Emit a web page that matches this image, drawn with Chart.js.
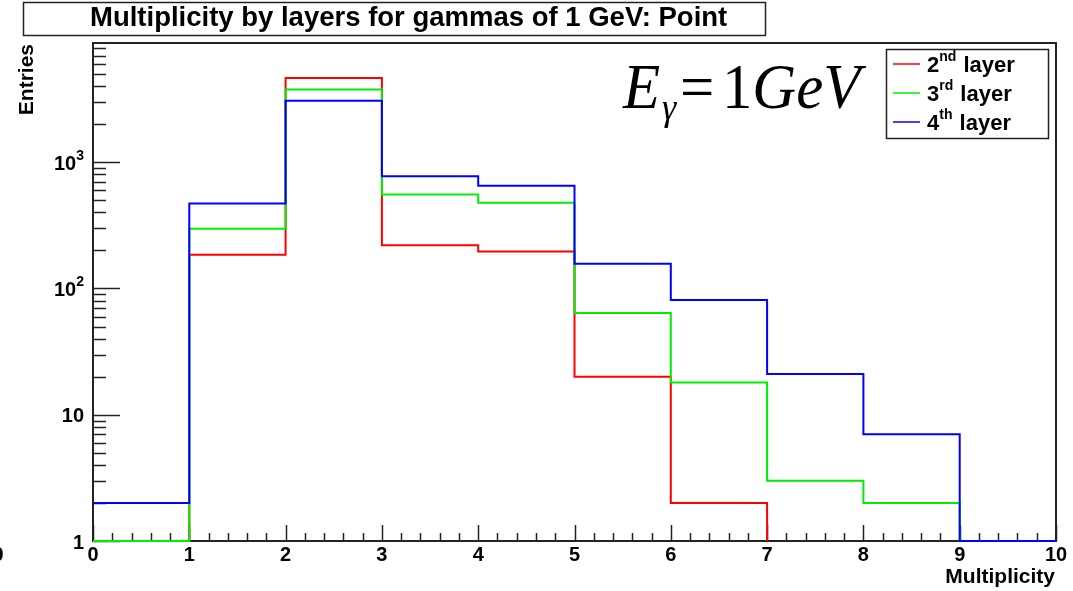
<!DOCTYPE html>
<html>
<head>
<meta charset="utf-8">
<script src="https://cdn.jsdelivr.net/npm/chart.js"></script>
<style>
  html, body { margin: 0; padding: 0; background: #fff; }
  #wrap { width: 1073px; height: 591px; position: relative; }
</style>
</head>
<body>
<div id="wrap"><canvas id="chart"></canvas></div>
<script>
// bin edges 0..10, one value per bin (0 = empty bin)
const binEdges = [0, 1, 2, 3, 4, 5, 6, 7, 8, 9, 10];
const layer2 = [1, 185, 4640, 220, 196, 20, 2, 0, 0, 0];
const layer3 = [1, 297, 3770, 555, 477, 64, 18, 3, 2, 0];
const layer4 = [2, 471, 3070, 776, 650, 157, 81, 21, 7, 1];
const seriesNames = [["2", "nd", " layer"], ["3", "rd", " layer"], ["4", "th", " layer"]];
const seriesColors = ["#ff0000", "#00ee00", "#0000ff"];
const yTicks = [1, 10, 100, 1000];
const yTickLabels = [["1", ""], ["10", ""], ["10", "2"], ["10", "3"]];
const xTicks = [0, 1, 2, 3, 4, 5, 6, 7, 8, 9, 10];
const yMax = 8800;

const titleText = "Multiplicity by layers for gammas of 1 GeV: Point";

// histogram outline: one point per bin start, trailing empty bins drop to the axis
function steps(vals) {
  const pts = [];
  let end = vals.length;
  while (end > 0 && vals[end - 1] === 0) end--;
  for (let i = 0; i < end; i++) pts.push({x: binEdges[i], y: vals[i]});
  if (end < vals.length) pts.push({x: binEdges[end], y: 1});
  else pts.push({x: binEdges[end], y: vals[end - 1]});
  return pts;
}

const B = "bold ";
const SANS = "'Liberation Sans', Arial, sans-serif";

const rootFrame = {
  id: 'rootFrame',
  beforeDatasetsDraw(chart) {
    const ctx = chart.ctx, a = chart.chartArea;
    const xs = chart.scales.x, ys = chart.scales.y;
    ctx.save();
    ctx.strokeStyle = '#222';
    ctx.lineWidth = 1.5;
    // x ticks
    for (let v = 0; v <= 10.001; v += 0.2) {
      const px = Math.round(xs.getPixelForValue(v)) + 0.5;
      const major = Math.abs(v - Math.round(v)) < 0.01;
      ctx.beginPath();
      ctx.moveTo(px, a.bottom);
      ctx.lineTo(px, a.bottom - (major ? 16 : 8));
      ctx.stroke();
    }
    // y ticks
    for (let d = 1; d <= 1000; d *= 10) {
      for (let m = 1; m <= 9; m++) {
        const v = d * m;
        if (v > yMax) break;
        const py = Math.round(ys.getPixelForValue(v)) + 0.5;
        ctx.beginPath();
        ctx.moveTo(a.left, py);
        ctx.lineTo(a.left + (m === 1 ? 27 : 13), py);
        ctx.stroke();
      }
    }
    ctx.lineWidth = 2;
    ctx.strokeStyle = '#222';
    ctx.strokeRect(a.left, a.top, a.right - a.left, a.bottom - a.top);
    ctx.restore();
  },
  afterDraw(chart) {
    const ctx = chart.ctx, a = chart.chartArea;
    const xs = chart.scales.x, ys = chart.scales.y;
    ctx.save();
    ctx.fillStyle = '#000';

    // x tick labels
    ctx.font = B + "20px " + SANS;
    ctx.textAlign = 'center';
    ctx.textBaseline = 'middle';
    xTicks.forEach(v => ctx.fillText(String(v), xs.getPixelForValue(v), 555));
    // y tick labels
    yTicks.forEach((v, i) => {
      const py = ys.getPixelForValue(v);
      const [base, sup] = yTickLabels[i];
      ctx.font = B + "14px " + SANS;
      const sw = sup ? ctx.measureText(sup).width : 0;
      ctx.textAlign = 'right';
      if (sup) { ctx.textBaseline = 'alphabetic'; ctx.fillText(sup, 84, py - 2); }
      ctx.font = B + "20px " + SANS;
      ctx.textBaseline = 'middle';
      ctx.fillText(base, 84 - sw, py + 2);
    });
    // partial label at the left edge
    ctx.textAlign = 'center';
    ctx.fillText("0", -2, 555);

    // axis titles
    ctx.font = B + "21px " + SANS;
    ctx.textAlign = 'right';
    ctx.textBaseline = 'alphabetic';
    ctx.fillText("Multiplicity", 1055, 583);
    ctx.save();
    ctx.translate(33, 44);
    ctx.rotate(-Math.PI / 2);
    ctx.textAlign = 'right';
    ctx.fillText("Entries", 0, 0);
    ctx.restore();

    // title box
    ctx.fillStyle = '#fff';
    ctx.fillRect(23, 2, 742, 33);
    ctx.strokeStyle = '#222';
    ctx.lineWidth = 1.5;
    ctx.strokeRect(23.5, 2.5, 742, 33);
    ctx.fillStyle = '#000';
    ctx.font = B + "22px " + SANS;
    const tw = ctx.measureText(titleText).width;
    const fs = 22 * 638 / tw;
    ctx.font = B + fs.toFixed(1) + "px " + SANS;
    ctx.textAlign = 'left';
    ctx.fillText(titleText, 90, 26);

    // legend box
    ctx.fillStyle = '#fff';
    ctx.fillRect(886, 49, 162, 89);
    ctx.strokeRect(886.5, 49.5, 162, 89);
    const rows = [63, 92, 121];
    seriesNames.forEach((parts, i) => {
      const y = rows[i] + 1;
      ctx.strokeStyle = seriesColors[i];
      ctx.lineWidth = 1.5;
      ctx.beginPath();
      ctx.moveTo(893, y);
      ctx.lineTo(920, y);
      ctx.stroke();
      ctx.fillStyle = '#000';
      ctx.textAlign = 'left';
      ctx.textBaseline = 'alphabetic';
      ctx.font = B + "22px " + SANS;
      let x = 927;
      ctx.fillText(parts[0], x, y + 8);
      x += ctx.measureText(parts[0]).width;
      ctx.font = B + "14px " + SANS;
      ctx.fillText(parts[1], x, y - 3);
      x += ctx.measureText(parts[1]).width + 1;
      ctx.font = B + "22px " + SANS;
      ctx.fillText(parts[2], x, y + 8);
    });

    // E_gamma = 1GeV
    const SERIF = "'Liberation Serif', 'Times New Roman', serif";
    ctx.save();
    ctx.translate(623, 108);
    ctx.scale(0.95, 1);
    ctx.fillStyle = '#000';
    ctx.textAlign = 'left';
    ctx.textBaseline = 'alphabetic';
    let ex = 0;
    ctx.font = "italic 64px " + SERIF;
    ctx.fillText("E", ex, 0);
    ex += ctx.measureText("E").width;
    ctx.font = "italic 38px " + SERIF;
    ctx.fillText("γ", ex + 2, 12);
    ex += ctx.measureText("γ").width + 6;
    ctx.font = "64px " + SERIF;
    ctx.fillText("=", ex, 0);
    ex += ctx.measureText("=").width + 8;
    ctx.fillText("1", ex, 0);
    ex += ctx.measureText("1").width;
    ctx.font = "italic 64px " + SERIF;
    ctx.fillText("GeV", ex, 0);
    ctx.restore();

    ctx.restore();
  }
};

const datasets = [layer2, layer3, layer4].map((vals, i) => ({
  label: seriesNames[i].join(""),
  data: steps(vals),
  borderColor: seriesColors[i],
  borderWidth: 2,
  pointRadius: 0,
  stepped: true,
  fill: false,
  clip: 4,
  order: 3 - i
}));

new Chart(document.getElementById('chart'), {
  type: 'line',
  data: { datasets },
  options: {
    responsive: true,
    maintainAspectRatio: false,
    animation: false,
    layout: { padding: { left: 93, right: 17, top: 43, bottom: 50 } },
    plugins: { legend: { display: false }, tooltip: { enabled: false } },
    scales: {
      x: { type: 'linear', min: 0, max: 10, display: false },
      y: { type: 'logarithmic', min: 1, max: yMax, display: false }
    }
  },
  plugins: [rootFrame]
});
</script>
</body>
</html>
